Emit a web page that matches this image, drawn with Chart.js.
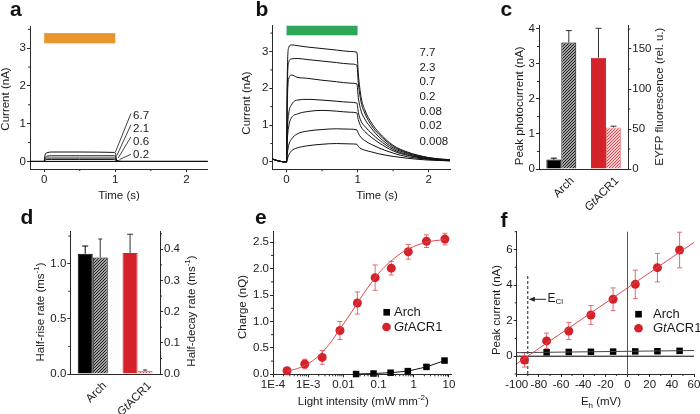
<!DOCTYPE html>
<html><head><meta charset="utf-8">
<script src="https://cdn.jsdelivr.net/npm/chart.js@4.4.1/dist/chart.umd.min.js"></script>
<style>
html,body{margin:0;padding:0;background:#fff;}
#root{position:relative;width:700px;height:414px;overflow:hidden;background:#fff;}
#root canvas{position:absolute;left:0;top:0;}
</style></head><body><div id="root"></div>
<script>
// ================= DATA =================
// Panel a: Arch photocurrent traces (nA) vs time (s)
const aTime   = [-0.2, 0.0, 0.01, 0.04, 0.1, 0.5, 0.98, 1.0, 1.02, 1.1, 2.3];
const aTrace1 = [0, 0, 0.17, 0.23, 0.25, 0.25, 0.24, 0.22, 0.03, 0, 0];
const aTrace2 = [0, 0, 0.10, 0.14, 0.15, 0.15, 0.15, 0.13, 0.02, 0, 0];
const aTrace3 = [0, 0, 0.06, 0.09, 0.09, 0.09, 0.09, 0.08, 0.01, 0, 0];
const aTrace4 = [0, 0, 0.03, 0.05, 0.05, 0.05, 0.05, 0.04, 0.01, 0, 0];
const aLabels = ['6.7', '2.1', '0.6', '0.2'];

// Panel b: GtACR1 photocurrent traces (nA) vs time (s)
const bTime  = [-0.2, -0.1, 0, 0.01, 0.03, 0.07, 0.15, 0.3, 0.5, 0.7, 0.9, 0.99, 1.01, 1.05, 1.1, 1.2, 1.3, 1.5, 1.7, 2.0, 2.3];
const b7_7   = [0.08, 0.02, 0, 2.2, 3.1, 3.18, 3.16, 3.12, 3.08, 3.04, 3.0, 2.98, 2.4, 1.75, 1.42, 1.05, 0.8, 0.45, 0.27, 0.12, 0.06];
const b2_3   = [0.08, 0.02, 0, 1.9, 2.7, 2.8, 2.81, 2.78, 2.74, 2.7, 2.66, 2.63, 2.15, 1.62, 1.33, 0.98, 0.75, 0.42, 0.25, 0.11, 0.05];
const b0_7   = [0.08, 0.02, 0, 1.5, 2.25, 2.36, 2.3, 2.27, 2.22, 2.18, 2.14, 2.12, 1.75, 1.38, 1.17, 0.9, 0.68, 0.38, 0.23, 0.1, 0.05];
const b0_2   = [0.08, 0.02, 0, 0.8, 1.3, 1.55, 1.68, 1.7, 1.68, 1.65, 1.62, 1.6, 1.35, 1.1, 0.97, 0.77, 0.6, 0.34, 0.2, 0.09, 0.04];
const b0_08  = [0.08, 0.02, 0, 0.55, 0.95, 1.2, 1.3, 1.37, 1.4, 1.38, 1.35, 1.33, 1.15, 0.95, 0.83, 0.66, 0.52, 0.3, 0.18, 0.08, 0.04];
const b0_02  = [0.08, 0.02, 0, 0.2, 0.45, 0.62, 0.76, 0.84, 0.88, 0.9, 0.89, 0.87, 0.78, 0.66, 0.58, 0.47, 0.38, 0.24, 0.14, 0.07, 0.03];
const b0_008 = [0.08, 0.02, 0, 0.07, 0.18, 0.3, 0.38, 0.44, 0.48, 0.5, 0.49, 0.48, 0.42, 0.36, 0.32, 0.27, 0.22, 0.15, 0.1, 0.05, 0.03];
const bLabels = ['7.7', '2.3', '0.7', '0.2', '0.08', '0.02', '0.008'];

// Panel c: peak photocurrent (nA, left) and EYFP fluorescence (rel. u., right)
const cCats = ['Arch', 'GtACR1'];
const cPeak = [0.27, 3.18];
const cPeakErr = [0.04, 0.84];
const cEyfp = [158, 52];
const cEyfpErr = [15, 1.5];

// Panel d: half-rise rate (left) and half-decay rate (right), ms^-1
const dRise = [1.09, 1.097];
const dRiseErr = [0.07, 0.17];
const dDecay = [0.374, 0.01];
const dDecayErr = [0.059, 0.003];

// Panel e: charge (nQ) vs light intensity (mW mm^-2)
const eGtX   = [0.00025, 0.0008, 0.0025, 0.008, 0.025, 0.08, 0.23, 0.7, 2.3, 7.7];
const eGtY   = [0.068, 0.195, 0.32, 0.83, 1.35, 1.83, 2.01, 2.32, 2.52, 2.56];
const eGtErr = [0.02, 0.09, 0.13, 0.17, 0.21, 0.24, 0.13, 0.14, 0.12, 0.11];
const eArchX = [0.023, 0.072, 0.22, 0.68, 2.3, 7.5];
const eArchY = [0.005, 0.015, 0.03, 0.06, 0.14, 0.26];
const eFitX  = [0.00025, 0.0005, 0.001, 0.002, 0.004, 0.008, 0.015, 0.03, 0.06, 0.12, 0.25, 0.5, 1, 2, 4, 8];
const eFitY  = [0.06, 0.11, 0.2, 0.35, 0.57, 0.86, 1.12, 1.43, 1.72, 1.97, 2.17, 2.32, 2.42, 2.49, 2.53, 2.55];
const eTickVals = [1e-4, 1e-3, 0.01, 0.1, 1, 10];
const eTickLabels = ['1E-4', '1E-3', '0.01', '0.1', '1', '10'];

// Panel f: peak current (nA) vs holding potential (mV)
const fGtX   = [-93, -73, -53, -33, -13, 7, 27, 47];
const fGtY   = [-0.21, 0.86, 1.42, 2.32, 3.2, 4.04, 4.98, 5.97];
const fGtErr = [0.4, 0.44, 0.48, 0.53, 0.64, 0.8, 0.8, 1.0];
const fArchX = [-73, -53, -33, -13, 7, 27, 47];
const fArchY = [0.22, 0.24, 0.25, 0.26, 0.27, 0.28, 0.3];
const fGtFitX = [-100, 60], fGtFitY = [-0.42, 6.4];
const fArchFitX = [-100, 60], fArchFitY = [0.2, 0.32];
const fECl = -90;

// ================= STYLE / HELPERS =================
const FONT = '"Liberation Sans", Arial, Helvetica, sans-serif';
const AX = '#2a2a2a', TX = '#1a1a1a';
const RED = '#d3222a', RED_L = '#e36a70';
const AW = 24, AH = 22;
const TICK_PX = 11.5, TITLE_PX = 11.5;
Chart.defaults.font.family = FONT; Chart.defaults.font.size = TICK_PX; Chart.defaults.color = TX;
Chart.defaults.animation = false;
const root = document.getElementById('root');
const pts = (xs, ys) => xs.map((x, i) => ({x, y: ys[i]}));

function fitScale(s) {
  if (s.isHorizontal()) { s.height = AH; s.paddingLeft = 0; s.paddingRight = 0; }
  else { s.width = AW; s.paddingTop = 0; s.paddingBottom = 0; }
}
function axis(pos, min, max, ticks, fmt, type) {
  return {
    type: type || 'linear', position: pos, min, max,
    border: {display: true, color: AX, width: 1},
    grid: {display: true, drawOnChartArea: false, drawTicks: true, tickLength: 3, color: AX, lineWidth: 1},
    ticks: {padding: 1, autoSkip: false, maxRotation: 0, minRotation: 0, color: TX, font: {size: TICK_PX, family: FONT},
      callback: (v, i) => fmt ? fmt(v, i) : String(v)},
    afterBuildTicks: s => { s.ticks = ticks.map(v => ({value: v})); },
    afterFit: fitScale
  };
}
function catAxis() {
  return {type: 'category', position: 'bottom', offset: true,
    border: {display: true, color: AX, width: 1},
    grid: {display: true, drawOnChartArea: false, drawTicks: false},
    ticks: {display: false}, afterFit: fitScale};
}
function line(ctx, x1, y1, x2, y2) { ctx.beginPath(); ctx.moveTo(x1, y1); ctx.lineTo(x2, y2); ctx.stroke(); }
function rich(ctx, segs, x, y, opt) {
  opt = opt || {};
  const size = opt.size || TITLE_PX, rot = opt.rot || 0, align = opt.align || 'center';
  ctx.save(); ctx.translate(x, y); ctx.rotate(rot); ctx.fillStyle = opt.color || TX;
  ctx.textBaseline = 'middle'; ctx.textAlign = 'left';
  const parts = segs.map(([t, m]) => {
    const small = m === 'sup' || m === 'sub';
    const f = (m === 'i' ? 'italic ' : '') + (small ? Math.round(size * 0.68) : size) + 'px ' + FONT;
    ctx.font = f; return {t, m, f, w: ctx.measureText(t).width};
  });
  const tot = parts.reduce((a, p) => a + p.w, 0);
  let cx = align === 'center' ? -tot / 2 : align === 'right' ? -tot : 0;
  for (const p of parts) {
    ctx.font = p.f;
    const dy = p.m === 'sup' ? -size * 0.38 : p.m === 'sub' ? size * 0.32 : 0;
    ctx.fillText(p.t, cx, dy); cx += p.w;
  }
  ctx.restore();
}
function letter(ctx, t, x, y) {
  ctx.save(); ctx.font = 'bold 21px ' + FONT; ctx.fillStyle = '#111'; ctx.textBaseline = 'alphabetic'; ctx.textAlign = 'left';
  ctx.fillText(t, x, y); ctx.restore();
}
function hatch(bg, fg, n, lw) {
  n = n || 3;
  const t = document.createElement('canvas'); t.width = n; t.height = n;
  const g = t.getContext('2d'); g.fillStyle = bg; g.fillRect(0, 0, n, n);
  g.strokeStyle = fg; g.lineWidth = lw || 1;
  g.beginPath(); g.moveTo(0, n); g.lineTo(n, 0);
  g.moveTo(-n / 2, n / 2); g.lineTo(n / 2, -n / 2);
  g.moveTo(n / 2, n * 1.5); g.lineTo(n * 1.5, n / 2); g.stroke();
  return g.createPattern(t, 'repeat');
}
function drawMinor(c, minor) {
  const ctx = c.ctx; ctx.save(); ctx.strokeStyle = AX; ctx.lineWidth = 1;
  for (const id in minor) {
    const s = c.scales[id]; if (!s) continue;
    for (const v of minor[id]) {
      const p = s.getPixelForValue(v);
      if (s.position === 'bottom') line(ctx, p, s.top, p, s.top + 2);
      else if (s.position === 'left') line(ctx, s.right, p, s.right - 2, p);
      else line(ctx, s.left, p, s.left + 2, p);
    }
  }
  ctx.restore();
}
function barErr(c, di, errs, colors, cap) {
  const ctx = c.ctx, meta = c.getDatasetMeta(di), ds = c.data.datasets[di], ys = c.scales[meta.yAxisID];
  ctx.save(); ctx.lineWidth = 1;
  meta.data.forEach((el, j) => {
    ctx.strokeStyle = colors[j];
    const y0 = ys.getPixelForValue(ds.data[j]), y1 = ys.getPixelForValue(ds.data[j] + errs[j]);
    line(ctx, el.x, y0, el.x, y1); line(ctx, el.x - cap, y1, el.x + cap, y1);
  });
  ctx.restore();
}
function ptErr(c, di, vals, errs, color, cap) {
  const ctx = c.ctx, meta = c.getDatasetMeta(di), ys = c.scales[meta.yAxisID];
  ctx.save(); ctx.lineWidth = 1; ctx.strokeStyle = color;
  meta.data.forEach((el, j) => {
    const y0 = ys.getPixelForValue(vals[j] - errs[j]), y1 = ys.getPixelForValue(vals[j] + errs[j]);
    line(ctx, el.x, y0, el.x, y1);
    line(ctx, el.x - cap, y0, el.x + cap, y0); line(ctx, el.x - cap, y1, el.x + cap, y1);
  });
  ctx.restore();
}
function legend(ctx, items) {
  for (const it of items) {
    ctx.save(); ctx.fillStyle = it.color;
    if (it.shape === 'rect') ctx.fillRect(it.x - 3.3, it.y - 3.3, 6.6, 6.6);
    else { ctx.beginPath(); ctx.arc(it.x, it.y, 4.3, 0, Math.PI * 2); ctx.fill(); }
    ctx.restore();
    rich(ctx, it.segs, it.tx, it.y, {size: 13, align: 'left'});
  }
}
function mk(area, type, data, scales, hooks) {
  const cv = document.createElement('canvas'); cv.width = 700; cv.height = 414; root.appendChild(cv);
  const hasR = !!scales.y2;
  return new Chart(cv, {
    type, data,
    options: {
      responsive: false, animation: false, events: [],
      layout: {autoPadding: false, padding: {left: area.L - AW, top: area.T, right: 700 - area.R - (hasR ? AW : 0), bottom: 414 - area.B - AH}},
      scales, plugins: {legend: {display: false}, tooltip: {enabled: false}}
    },
    plugins: [{id: 'deco',
      beforeDatasetsDraw(c) { hooks.before && hooks.before(c, c.ctx); },
      afterDatasetsDraw(c) { hooks.afterDs && hooks.afterDs(c, c.ctx); },
      afterDraw(c) { drawMinor(c, hooks.minor || {}); hooks.after && hooks.after(c, c.ctx); }}]
  });
}
const GT = [['Gt', 'i'], ['ACR1']];
const traceDs = (xs, ys) => ({data: pts(xs, ys), borderColor: '#111', borderWidth: 1, pointRadius: 0, cubicInterpolationMode: 'monotone'});

// ================= PANEL a =================
mk({L: 30, T: 26.7, R: 207.7, B: 169}, 'line',
  {datasets: [aTrace1, aTrace2, aTrace3, aTrace4].map(tr => traceDs(aTime, tr))},
  {x: axis('bottom', -0.2, 2.3, [0, 1, 2]), y: axis('left', -0.2, 3.57, [0, 1, 2, 3])},
  {minor: {x: [0.5, 1.5], y: [0.5, 1.5, 2.5, 3.5]},
   before(c, ctx) {
     const x = c.scales.x, y = c.scales.y;
     ctx.save(); ctx.strokeStyle = '#000'; ctx.lineWidth = 1;
     line(ctx, x.left, y.getPixelForValue(0), x.right, y.getPixelForValue(0));
     ctx.fillStyle = '#e8952d';
     ctx.fillRect(x.getPixelForValue(0), y.getPixelForValue(3.4), x.getPixelForValue(1) - x.getPixelForValue(0), y.getPixelForValue(3.13) - y.getPixelForValue(3.4));
     ctx.restore();
   },
   after(c, ctx) {
     const x = c.scales.x, y = c.scales.y;
     const ends = [1.27, 0.97, 0.65, 0.19], labY = [1.2, 0.87, 0.51, 0.17];
     const starts = [aTrace1, aTrace2, aTrace3, aTrace4].map(t => t[6]);
     ctx.save(); ctx.strokeStyle = '#111'; ctx.lineWidth = 0.8;
     starts.forEach((s, i) => line(ctx, x.getPixelForValue(1.0 + i * 0.02), y.getPixelForValue(s), x.getPixelForValue(1.22), y.getPixelForValue(ends[i])));
     ctx.restore();
     aLabels.forEach((t, i) => rich(ctx, [[t]], x.getPixelForValue(1.25), y.getPixelForValue(labY[i]), {align: 'left'}));
     rich(ctx, [['Current (nA)']], 6, 99, {rot: -Math.PI / 2});
     rich(ctx, [['Time (s)']], 119, 196);
     letter(ctx, 'a', 10, 16);
   }});

// ================= PANEL b =================
mk({L: 272.3, T: 25, R: 450, B: 169.3}, 'line',
  {datasets: [b7_7, b2_3, b0_7, b0_2, b0_08, b0_02, b0_008].map(tr => traceDs(bTime, tr))},
  {x: axis('bottom', -0.2, 2.3, [0, 1, 2]), y: axis('left', -0.2, 3.72, [0, 1, 2, 3])},
  {minor: {x: [0.5, 1.5], y: [0.5, 1.5, 2.5, 3.5]},
   before(c, ctx) {
     const x = c.scales.x, y = c.scales.y;
     ctx.save(); ctx.fillStyle = '#2ea65a';
     ctx.fillRect(x.getPixelForValue(0), y.getPixelForValue(3.7), x.getPixelForValue(1) - x.getPixelForValue(0), y.getPixelForValue(3.44) - y.getPixelForValue(3.7));
     ctx.restore();
   },
   after(c, ctx) {
     const x = c.scales.x, y = c.scales.y;
     const labY = [2.975, 2.567, 2.177, 1.777, 1.368, 0.978, 0.55];
     bLabels.forEach((t, i) => rich(ctx, [[t]], x.getPixelForValue(1.87), y.getPixelForValue(labY[i]), {align: 'left'}));
     rich(ctx, [['Current (nA)']], 246.7, 103, {rot: -Math.PI / 2});
     rich(ctx, [['Time (s)']], 377, 196);
     letter(ctx, 'b', 255.5, 16);
   }});

// ================= PANEL c =================
mk({L: 539, T: 25, R: 628.3, B: 169}, 'bar',
  {labels: cCats, datasets: [
    {data: cPeak, yAxisID: 'y', backgroundColor: ['#000', RED], borderColor: ['#000', RED], borderWidth: 1, barPercentage: 1, categoryPercentage: 0.67},
    {data: cEyfp, yAxisID: 'y2', backgroundColor: [hatch('#ddd', '#1a1a1a', 3, 1.2), hatch('#fff', '#e2434b', 3, 1.1)], borderColor: ['#000', '#ee8a8f'], borderWidth: 1, barPercentage: 1, categoryPercentage: 0.67}]},
  {x: catAxis(), y: axis('left', 0, 4.114, [0, 1, 2, 3, 4]), y2: axis('right', 0, 180, [0, 50, 100, 150])},
  {minor: {y: [0.5, 1.5, 2.5, 3.5], y2: [25, 75, 125, 175]},
   afterDs(c) { barErr(c, 0, cPeakErr, ['#000', '#333'], 3); barErr(c, 1, cEyfpErr, ['#333', '#333'], 3); },
   after(c, ctx) {
     const x = c.scales.x;
     rich(ctx, [['Arch']], x.getPixelForValue(0) + 11, 179, {rot: -Math.PI / 4, align: 'right'});
     rich(ctx, GT, x.getPixelForValue(1) + 11, 179, {rot: -Math.PI / 4, align: 'right'});
     rich(ctx, [['Peak photocurrent (nA)']], 519.5, 105.8, {rot: -Math.PI / 2});
     rich(ctx, [['EYFP fluorescence (rel. u.)']], 660, 96.7, {rot: -Math.PI / 2});
     letter(ctx, 'c', 500.5, 16);
   }});

// ================= PANEL d =================
mk({L: 70.3, T: 231.7, R: 160, B: 374}, 'bar',
  {labels: cCats, datasets: [
    {data: dRise, yAxisID: 'y', backgroundColor: ['#000', RED], borderColor: ['#000', RED], borderWidth: 1, barPercentage: 1, categoryPercentage: 0.67},
    {data: dDecay, yAxisID: 'y2', backgroundColor: [hatch('#ddd', '#1a1a1a', 3, 1.2), hatch('#fff', '#e2434b', 3, 1.1)], borderColor: ['#000', '#ee8a8f'], borderWidth: 1, barPercentage: 1, categoryPercentage: 0.67}]},
  {x: catAxis(), y: axis('left', 0, 1.29, [0, 0.5, 1], v => v.toFixed(1)), y2: axis('right', 0, 0.4565, [0, 0.1, 0.2, 0.3, 0.4], v => v.toFixed(1))},
  {minor: {y: [0.25, 0.75, 1.25], y2: [0.05, 0.15, 0.25, 0.35, 0.45]},
   afterDs(c) { barErr(c, 0, dRiseErr, ['#000', '#333'], 3); barErr(c, 1, dDecayErr, ['#333', '#333'], 2); },
   after(c, ctx) {
     const x = c.scales.x;
     rich(ctx, [['Arch']], x.getPixelForValue(0) + 12, 384, {rot: -Math.PI / 4, align: 'right'});
     rich(ctx, GT, x.getPixelForValue(1) + 12, 384, {rot: -Math.PI / 4, align: 'right'});
     rich(ctx, [['Half-rise rate (ms'], ['-1', 'sup'], [')']], 41, 312, {rot: -Math.PI / 2});
     rich(ctx, [['Half-decay rate (ms'], ['-1', 'sup'], [')']], 191.7, 311, {rot: -Math.PI / 2});
     letter(ctx, 'd', 20.5, 224.3);
   }});

// ================= PANEL e =================
const eMinor = [];
for (let d = -4; d <= 1; d++) for (let k = 2; k <= 9; k++) { const v = k * Math.pow(10, d); if (v < 12) eMinor.push(v); }
mk({L: 273, T: 231.7, R: 451.7, B: 374.3}, 'line',
  {datasets: [
    {data: pts(eFitX, eFitY), borderColor: '#e0474e', borderWidth: 1, pointRadius: 0, cubicInterpolationMode: 'monotone', clip: false},
    {data: pts(eGtX, eGtY), showLine: false, pointRadius: 4.5, pointBackgroundColor: RED, pointBorderColor: RED, pointBorderWidth: 0, clip: false},
    {data: pts(eArchX, eArchY), borderColor: '#111', borderWidth: 1, pointStyle: 'rect', pointRadius: 4.6, pointBackgroundColor: '#000', pointBorderColor: '#000', pointBorderWidth: 0, clip: false}]},
  {x: axis('bottom', 1e-4, 12, eTickVals, (v, i) => eTickLabels[i], 'logarithmic'),
   y: axis('left', 0, 2.7, [0, 0.5, 1, 1.5, 2, 2.5], v => v.toFixed(1))},
  {minor: {x: eMinor, y: [0.25, 0.75, 1.25, 1.75, 2.25]},
   before(c) { ptErr(c, 1, eGtY, eGtErr, RED_L, 2.5); },
   after(c, ctx) {
     legend(ctx, [{shape: 'rect', color: '#000', x: 386.7, y: 312.3, tx: 394, segs: [['Arch']]},
                  {shape: 'circle', color: RED, x: 386.5, y: 327, tx: 394, segs: GT}]);
     rich(ctx, [['Charge (nQ)']], 243, 307, {rot: -Math.PI / 2});
     rich(ctx, [['Light intensity (mW mm'], ['-2', 'sup'], [')']], 363.3, 402);
     letter(ctx, 'e', 255, 224);
   }});

// ================= PANEL f =================
mk({L: 516.7, T: 231.7, R: 694, B: 374}, 'line',
  {datasets: [
    {data: pts(fGtFitX, fGtFitY), borderColor: '#e0474e', borderWidth: 1, pointRadius: 0},
    {data: pts(fArchFitX, fArchFitY), borderColor: '#444', borderWidth: 1, pointRadius: 0},
    {data: pts(fGtX, fGtY), showLine: false, pointRadius: 4.5, pointBackgroundColor: RED, pointBorderColor: RED, pointBorderWidth: 0, clip: false},
    {data: pts(fArchX, fArchY), showLine: false, pointStyle: 'rect', pointRadius: 4.6, pointBackgroundColor: '#000', pointBorderColor: '#000', pointBorderWidth: 0, clip: false}]},
  {x: axis('bottom', -100, 60, [-100, -80, -60, -40, -20, 0, 20, 40, 60]),
   y: axis('left', -1, 7, [0, 2, 4, 6])},
  {minor: {x: [-90, -70, -50, -30, -10, 10, 30, 50], y: [-1, 1, 3, 5, 7]},
   before(c, ctx) {
     const x = c.scales.x, y = c.scales.y;
     ctx.save(); ctx.lineWidth = 1;
     ctx.strokeStyle = '#555'; line(ctx, x.getPixelForValue(0), y.top, x.getPixelForValue(0), y.bottom);
     ctx.strokeStyle = '#000'; line(ctx, x.left, y.getPixelForValue(0), x.right, y.getPixelForValue(0));
     ctx.setLineDash([3, 2]); ctx.strokeStyle = '#222';
     line(ctx, x.getPixelForValue(fECl), y.bottom, x.getPixelForValue(fECl), y.getPixelForValue(4.6));
     ctx.setLineDash([]);
     const ay = y.getPixelForValue(3.2), ax0 = x.getPixelForValue(fECl) + 1, ax1 = x.getPixelForValue(-73.5);
     line(ctx, ax0 + 4, ay, ax1, ay);
     ctx.fillStyle = '#222'; ctx.beginPath(); ctx.moveTo(ax0, ay); ctx.lineTo(ax0 + 6, ay - 2.5); ctx.lineTo(ax0 + 6, ay + 2.5); ctx.closePath(); ctx.fill();
     ctx.restore();
     ptErr(c, 2, fGtY, fGtErr, RED_L, 2.5);
   },
   after(c, ctx) {
     const x = c.scales.x, y = c.scales.y;
     rich(ctx, [['E', ''], ['Cl', 'sub']], x.getPixelForValue(-73.5) + 1.5, y.getPixelForValue(3.2) - 1, {size: 12, align: 'left'});
     legend(ctx, [{shape: 'rect', color: '#000', x: 638.5, y: 314.2, tx: 653, segs: [['Arch']]},
                  {shape: 'circle', color: RED, x: 638.5, y: 328.3, tx: 653, segs: GT}]);
     rich(ctx, [['Peak current (nA)']], 496.7, 310, {rot: -Math.PI / 2});
     rich(ctx, [['E'], ['h', 'sub'], [' (mV)']], 601, 402);
     letter(ctx, 'f', 500.5, 226.5);
   }});
</script>
</body></html>
